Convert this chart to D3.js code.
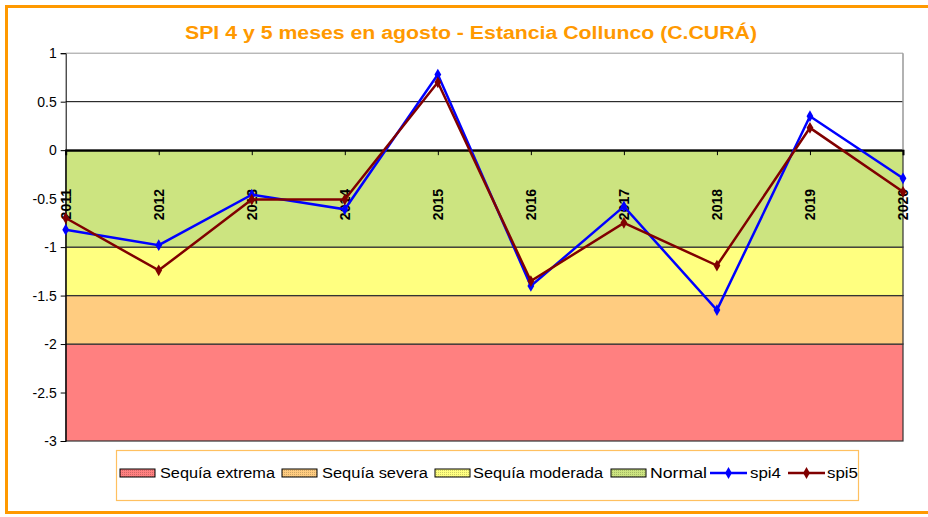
<!DOCTYPE html>
<html><head><meta charset="utf-8">
<script src="https://cdn.jsdelivr.net/npm/d3@7"></script>
<style>body{margin:0;background:#fff}svg{display:block}text{font-family:"Liberation Sans",Arial,sans-serif}</style>
</head><body>
<svg id="c" width="928" height="517"></svg>
<script>
const years = ["2011","2012","2013","2014","2015","2016","2017","2018","2019","2020"];
const spi4 = [-0.82,-0.98,-0.46,-0.61,0.78,-1.40,-0.58,-1.65,0.35,-0.29];
const spi5 = [-0.70,-1.24,-0.51,-0.51,0.70,-1.35,-0.75,-1.19,0.23,-0.43];
const bands = [
  {name:"Sequía extrema", from:-3, to:-2, color:"#FF8080"},
  {name:"Sequía severa", from:-2, to:-1.5, color:"#FFCC80"},
  {name:"Sequía moderada", from:-1.5, to:-1, color:"#FFFF80"},
  {name:"Normal", from:-1, to:0, color:"#CCE480"}
];
const yTicks = [1,0.5,0,-0.5,-1,-1.5,-2,-2.5,-3];
const title = "SPI 4 y 5 meses en agosto - Estancia Collunco (C.CURÁ)";

const svg = d3.select("#c");
const L = 65.7, R = 903, T = 53.2, B = 441;
const x = d3.scalePoint().domain(years).range([L, R]).padding(0);
const y = d3.scaleLinear().domain([-3, 1]).range([B, T]);

// outer frame
svg.append("rect").attr("x",6.5).attr("y",6.5).attr("width",940).attr("height",506)
  .attr("fill","none").attr("stroke","#FF9900").attr("stroke-width",3);

// title
svg.append("text").attr("x",471).attr("y",39).attr("text-anchor","middle")
  .attr("fill","#FF9900").attr("font-weight","bold").attr("font-size",18)
  .attr("textLength",572).attr("lengthAdjust","spacingAndGlyphs").text(title);

// gridlines
svg.append("g").selectAll("line").data(yTicks.filter(d=>d>-3)).join("line")
  .attr("x1",L).attr("x2",R).attr("y1",d=>y(d)).attr("y2",d=>y(d))
  .attr("stroke",d=>d===1?"#999":"#000").attr("stroke-width",1);

// bands
svg.append("g").selectAll("rect").data(bands).join("rect")
  .attr("x",L).attr("width",R-L).attr("y",d=>y(d.to)).attr("height",d=>y(d.from)-y(d.to))
  .attr("fill",d=>d.color).attr("stroke","#333").attr("stroke-width",1.2);

// right border above zero
svg.append("line").attr("x1",R).attr("x2",R).attr("y1",T).attr("y2",y(0)).attr("stroke","#999").attr("stroke-width",1.5);

// y axis
const ya = svg.append("g").attr("transform",`translate(${L},0)`)
  .call(d3.axisLeft(y).tickValues(yTicks).tickSize(5).tickPadding(4).tickFormat(d=>String(d)));
ya.select(".domain").attr("stroke","#000");
ya.selectAll(".tick line").attr("stroke","#000");
ya.selectAll("text").attr("font-size",14).attr("fill","#000").attr("font-family","Liberation Sans, Arial, sans-serif");

// x axis at zero
const xa = svg.append("g").attr("transform",`translate(0,${y(0)})`)
  .call(d3.axisBottom(x).tickSize(5).tickFormat(""));
xa.select(".domain").attr("stroke","#000").attr("stroke-width",2);
xa.selectAll(".tick line").attr("stroke","#000");

// x labels rotated
svg.append("g").selectAll("text").data(years).join("text")
  .attr("transform",d=>`translate(${x(d)},189) rotate(-90)`)
  .attr("text-anchor","end").attr("dy","0.36em")
  .attr("font-size",14).attr("font-weight","bold").attr("fill","#000").text(d=>d);

// series
const series = [{name:"spi4", vals:spi4, color:"#0000FF"},{name:"spi5", vals:spi5, color:"#800000"}];
const line = d3.line().x((d,i)=>x(years[i])).y(d=>y(d));
const diamond = d3.symbol().type(d3.symbolDiamond).size(40);
series.forEach(s=>{
  svg.append("path").datum(s.vals).attr("d",line).attr("fill","none")
    .attr("stroke",s.color).attr("stroke-width",2.5);
  svg.append("g").selectAll("path").data(s.vals).join("path")
    .attr("transform",(d,i)=>`translate(${x(years[i])},${y(d)})`)
    .attr("d",diamond).attr("fill",s.color);
});

// legend
const defs = svg.append("defs");
bands.forEach((b,i)=>{
  const p = defs.append("pattern").attr("id","pat"+i).attr("width",2).attr("height",2).attr("patternUnits","userSpaceOnUse");
  p.append("rect").attr("width",2).attr("height",2).attr("fill",b.color);
  p.append("rect").attr("width",1).attr("height",1).attr("fill",d3.color(b.color).darker(0.6));
});
svg.append("rect").attr("x",116.5).attr("y",450.5).attr("width",742).attr("height",50)
  .attr("fill","#fff").attr("stroke","#FFC060").attr("stroke-width",1.2);
const ly = 473;
const bandX = [{sx:120, tx:160, tw:115},{sx:282, tx:322, tw:106},{sx:435, tx:473, tw:130},{sx:611, tx:650, tw:57}];
bands.forEach((b,i)=>{
  svg.append("rect").attr("x",bandX[i].sx).attr("y",ly-4).attr("width",35).attr("height",8)
    .attr("fill",`url(#pat${i})`).attr("stroke","#000").attr("stroke-width",1);
  svg.append("text").attr("x",bandX[i].tx).attr("y",ly).attr("dy","0.35em").attr("font-size",14)
    .attr("textLength",bandX[i].tw).attr("lengthAdjust","spacingAndGlyphs").attr("fill","#000").text(b.name);
});
const serX = [{lx:710, tx:750, tw:31},{lx:788, tx:827, tw:31}];
series.forEach((s,i)=>{
  svg.append("line").attr("x1",serX[i].lx).attr("x2",serX[i].lx+37).attr("y1",ly).attr("y2",ly)
    .attr("stroke",s.color).attr("stroke-width",2.5);
  svg.append("path").attr("transform",`translate(${serX[i].lx+18.5},${ly})`).attr("d",diamond).attr("fill",s.color);
  svg.append("text").attr("x",serX[i].tx).attr("y",ly).attr("dy","0.35em").attr("font-size",14)
    .attr("textLength",serX[i].tw).attr("lengthAdjust","spacingAndGlyphs")
    .attr("fill","#000").text(s.name);
});
</script>
</body></html>
